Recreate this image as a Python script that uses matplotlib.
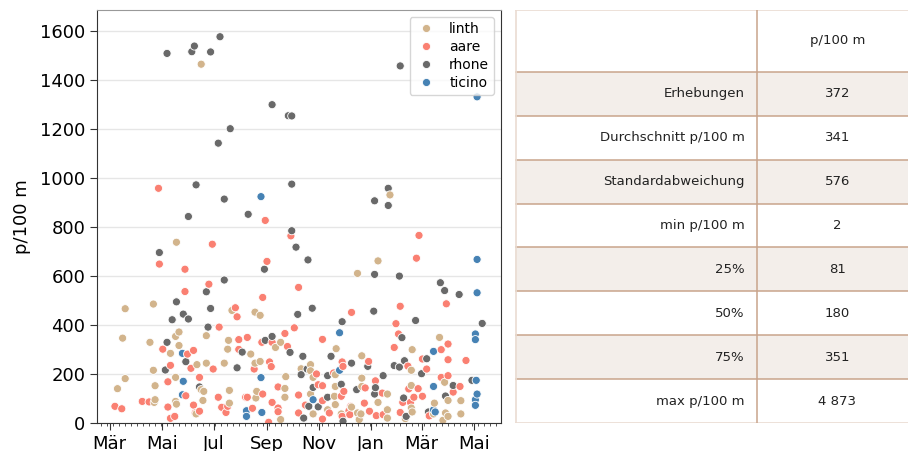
import pandas as pd
import numpy as np
import matplotlib
matplotlib.use("Agg")
import matplotlib.pyplot as plt
import matplotlib.dates as mdates
import seaborn as sns

# day offsets from 2018-03-01 and p/100 m per survey, per river
start = pd.Timestamp("2018-03-01")

rhone_tag = [67, 96, 99, 118, 129, 141, 127, 190, 209, 213, 340, 101, 213, 134, 162, 92, 213, 218, 232, 58,
             181, 134, 113, 118, 78, 73, 86, 92, 115, 67, 65, 89, 105, 155, 149, 182, 190, 211, 220, 237,
             226, 224, 231, 238, 233, 227, 255, 259, 272, 283, 289, 302, 310, 311, 320, 309, 310, 310, 326, 326,
             339, 333, 339, 342, 345, 344, 347, 358, 365, 371, 373, 387, 392, 409, 436, 393, 402, 424, 273, 244,
             255, 271]
rhone_wert = [1507, 1514, 1537, 1513, 1575, 1200, 1141, 1298, 1253, 1252, 1456, 971, 974, 913, 851, 842, 784, 717, 665, 695,
              627, 583, 535, 467, 494, 421, 444, 424, 391, 329, 216, 250, 147, 289, 225, 337, 353, 288, 443, 468,
              272, 197, 220, 145, 68, 20, 193, 272, 413, 244, 136, 231, 118, 144, 193, 456, 606, 906, 957, 887,
              599, 234, 228, 348, 254, 102, 27, 418, 201, 262, 45, 572, 540, 524, 406, 110, 153, 174, 7, 66,
              105, 158]

aare_tag = [57, 58, 62, 68, 71, 68, 71, 76, 6, 14, 38, 46, 88, 88, 91, 95, 98, 105, 98, 100,
            105, 89, 116, 120, 128, 121, 127, 131, 136, 138, 147, 149, 151, 151, 161, 159, 161, 167, 169, 178,
            179, 182, 184, 179, 186, 187, 189, 190, 190, 197, 197, 197, 205, 208, 212, 216, 221, 221, 221, 229,
            242, 244, 249, 249, 249, 249, 257, 262, 271, 272, 273, 274, 272, 280, 281, 282, 283, 298, 299, 303,
            304, 311, 312, 319, 320, 333, 335, 338, 340, 340, 343, 349, 350, 352, 356, 359, 362, 361, 366, 366,
            371, 374, 388, 394, 396, 396, 396, 388, 402, 410, 417]
aare_wert = [957, 648, 301, 168, 235, 65, 19, 27, 68, 58, 88, 86, 627, 536, 281, 223, 296, 186, 73, 41,
             48, 111, 566, 729, 391, 220, 105, 64, 43, 68, 470, 433, 340, 300, 349, 105, 105, 60, 220, 329,
             512, 826, 659, 118, 3, 249, 230, 84, 329, 147, 61, 46, 365, 312, 763, 388, 553, 114, 41, 73,
             200, 156, 341, 91, 16, 152, 41, 204, 109, 249, 231, 129, 27, 50, 34, 68, 451, 81, 143, 251,
             48, 172, 30, 122, 34, 308, 405, 363, 476, 43, 84, 232, 139, 84, 105, 672, 765, 140, 109, 261,
             220, 29, 299, 486, 322, 258, 193, 186, 126, 149, 255]

linth_tag = [9, 15, 18, 18, 47, 51, 51, 53, 52, 53, 78, 77, 81, 81, 71, 77, 78, 77, 107, 113,
             113, 102, 107, 110, 109, 101, 134, 139, 143, 140, 138, 140, 170, 176, 165, 170, 176, 172, 171, 194,
             200, 206, 205, 205, 200, 224, 235, 235, 238, 235, 238, 255, 264, 265, 264, 263, 264, 271, 283, 290,
             290, 292, 295, 295, 295, 294, 314, 314, 325, 325, 325, 328, 346, 353, 353, 353, 354, 354, 380, 379,
             386, 392, 396, 393, 396, 390, 411, 411]
linth_wert = [140, 346, 466, 181, 329, 485, 215, 152, 84, 95, 737, 353, 371, 316, 284, 186, 77, 88, 1463, 356,
              244, 238, 136, 129, 92, 37, 244, 337, 459, 133, 301, 81, 452, 439, 281, 244, 251, 129, 102, 308,
              329, 189, 141, 105, 14, 221, 238, 213, 186, 118, 37, 54, 197, 303, 149, 109, 75, 37, 65, 610,
              41, 14, 274, 183, 149, 37, 661, 84, 118, 54, 20, 930, 18, 215, 153, 61, 45, 299, 81, 37,
              349, 166, 92, 41, 27, 11, 91, 37]

ticino_tag = [85, 86, 85, 177, 177, 178, 160, 160, 238, 269, 269, 379, 379, 379, 381, 430, 430, 430, 428, 428,
              429, 430, 428, 428]
ticino_wert = [284, 170, 115, 923, 185, 43, 50, 27, 95, 368, 215, 292, 149, 54, 45, 1330, 667, 531, 363, 340,
               174, 118, 95, 72]

fluesse = ["linth", "aare", "rhone", "ticino"]
farben = ["#d2b48c", "#fa8072", "#696969", "#4682b4"]

# summary table
tab_labels = ["Erhebungen", "Durchschnitt p/100 m", "Standardabweichung", "min p/100 m",
              "25%", "50%", "75%", "max p/100 m"]
tab_werte = ["372", "341", "576", "2", "81", "180", "351", "4 873"]

frames = []
for name, tage, werte in [("linth", linth_tag, linth_wert), ("aare", aare_tag, aare_wert),
                          ("rhone", rhone_tag, rhone_wert), ("ticino", ticino_tag, ticino_wert)]:
    frames.append(pd.DataFrame({"date": start + pd.to_timedelta(tage, unit="D"),
                                "p/100 m": werte, "river": name}))
data = pd.concat(frames).sort_values("date", kind="stable").reset_index(drop=True)

fig = plt.figure(figsize=(9.08, 4.51), dpi=100)
ax = fig.add_axes([97 / 908, 28 / 451, 404 / 908, 413 / 451])

sns.scatterplot(data=data, x="date", y="p/100 m", hue="river", hue_order=fluesse,
                palette=farben, s=34, edgecolor="white", linewidth=0.6, ax=ax)

ax.set_ylim(0, 1684)
ax.set_xlim(pd.Timestamp("2018-02-14"), pd.Timestamp("2019-06-02"))
ax.set_yticks(np.arange(0, 1601, 200))
ax.grid(axis="y", color="#e6e6e6", linewidth=1)
ax.set_axisbelow(True)

monate = {1: "Jan", 3: "Mär", 5: "Mai", 7: "Jul", 9: "Sep", 11: "Nov"}
ax.xaxis.set_major_locator(mdates.MonthLocator(bymonth=[1, 3, 5, 7, 9, 11]))
ax.xaxis.set_major_formatter(plt.FuncFormatter(lambda v, p: monate[mdates.num2date(v).month]))
ax.xaxis.set_minor_locator(mdates.WeekdayLocator(byweekday=mdates.MO))
ax.tick_params(axis="both", which="major", labelsize=13, length=5, color="#333333")
ax.tick_params(axis="x", which="minor", length=2.5, color="#333333")
ax.set_xlabel("")
ax.set_ylabel("p/100 m", fontsize=13, labelpad=6)
for sp in ax.spines.values():
    sp.set_color("#333333")
ax.spines["top"].set_color("#999999")

leg = ax.legend(loc="upper right", fontsize=10, handletextpad=0.9, borderpad=0.35,
                labelspacing=0.3, markerscale=1.0, handlelength=1.6)
leg.set_title(None)

# table panel
tx = fig.add_axes([515 / 908, 28 / 451, 393 / 908, 413 / 451])
tx.set_xlim(0, 1)
tx.set_ylim(1, 0)
tx.axis("off")

kopf = 62 / 413
zeile = (1 - kopf) / len(tab_labels)
split = 242 / 393
linie = "#c9a48c"
hell = "#eadcd2"

tx.text(0.82, kopf / 2, "p/100 m", ha="center", va="center", fontsize=9.5, color="#222222")
for i, (lab, wert) in enumerate(zip(tab_labels, tab_werte)):
    y0 = kopf + i * zeile
    if i % 2 == 0:
        tx.add_patch(plt.Rectangle((0, y0), 1, zeile, color="#f3eeea", lw=0))
    tx.text(split - 0.032, y0 + zeile / 2, lab, ha="right", va="center", fontsize=9.5, color="#222222")
    tx.text(0.82, y0 + zeile / 2, wert, ha="center", va="center", fontsize=9.5, color="#222222")
    tx.axhline(y0, color=linie, lw=1.1)

tx.axhline(0.001, color=hell, lw=1.2)
tx.axhline(0.999, color=hell, lw=1.2)
tx.axvline(0.002, color=hell, lw=1.2)
tx.axvline(split, color=linie, lw=1.1)

fig.savefig("out.png", dpi=100)
